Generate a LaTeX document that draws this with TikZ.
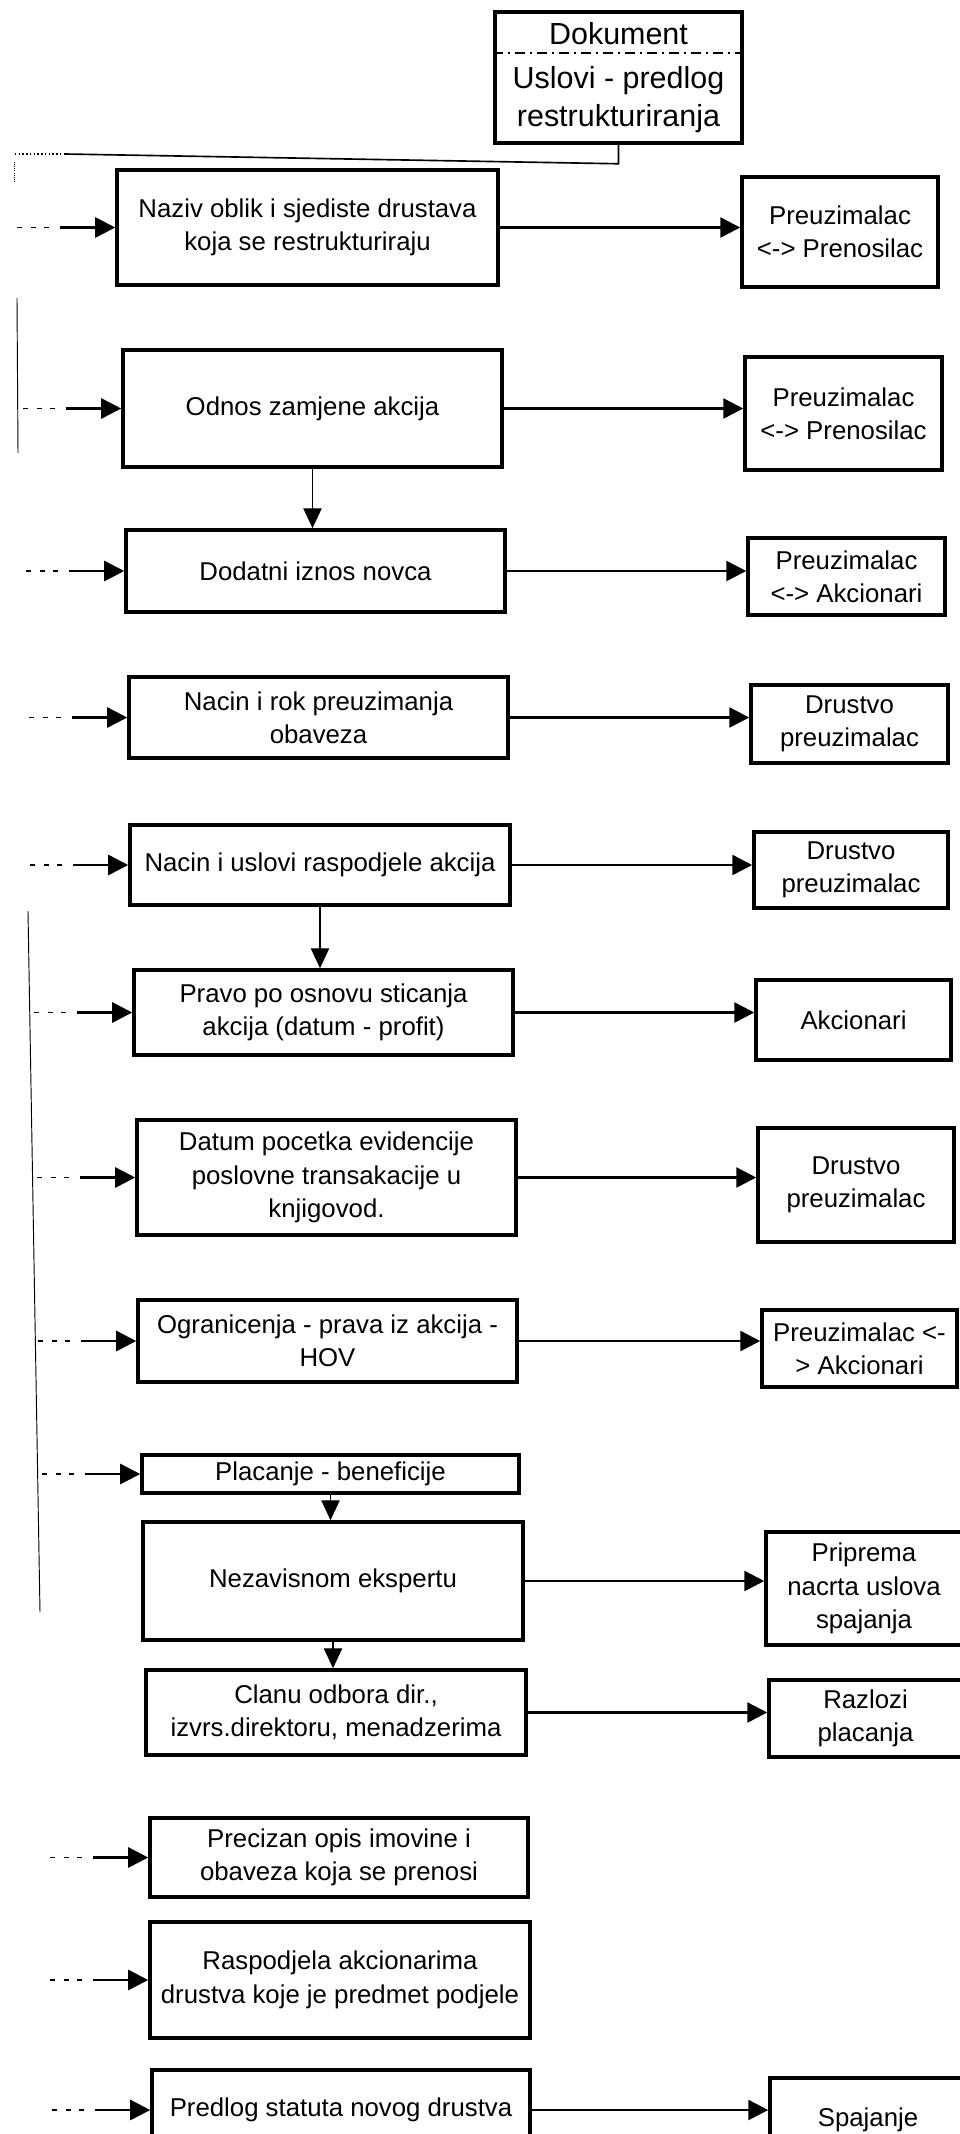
\documentclass[tikz,border=0pt]{standalone}
\usepackage{fontspec}
\setmainfont{Liberation Sans}
\usetikzlibrary{arrows.meta}
\newcommand\cellfont{\fontsize{22}{28.5}\selectfont}
\newcommand\docfont{\fontsize{26}{32.5}\selectfont}
\tikzset{
  box/.style n args={2}{draw,line width=3pt,minimum width=#1*0.3mm,minimum height=#2*0.3mm,inner sep=0pt,align=center,font=\cellfont},
  link/.style={line width=2.2pt,-{Triangle[length=6mm,width=6mm]}},
  down/.style={line width=1.2pt,-{Triangle[length=6mm,width=5.5mm]}},
  feed/.style={line width=1.2pt,dash pattern=on 1.5mm off 2.5mm},
}
\begin{document}
\begin{tikzpicture}[x=0.3mm,y=-0.3mm]
  \clip (0,0) rectangle (960,2134);
  \node[box={247}{131},font=\docfont] (dok) at (618.5,77.5) {Dokument\\[5pt]Uslovi - predlog\\restrukturiranja};
  \draw[line width=1.2pt,dash pattern=on 3mm off 1.5mm on 0.6mm off 1.5mm] (dok.west |- 0,53) -- (dok.east |- 0,53);
  \coordinate (bus) at (65,154);
  \draw[line width=1.4pt] (dok.south) -- ++(0,19) -- (bus);
  \draw[line width=1.2pt,dotted] (bus) -- (15,154);
  \draw[line width=0.8pt,densely dotted] (14,162) -- (14,183);
  \draw[line width=0.8pt] (17,298) -- (18,453);
  \draw[line width=0.8pt] (28,911) -- (40,1612);

  \node[box={381}{115}] (naziv) at (307.5,227.5) {Naziv oblik i sjediste drustava\\koja se restrukturiraju};
  \node[box={379}{117}] (odnos) at (312.5,408.5) {Odnos zamjene akcija};
  \node[box={379}{82}] (dodatni) at (315.5,571) {Dodatni iznos novca};
  \node[box={379}{81}] (rok) at (318.5,717.5) {Nacin i rok preuzimanja\\obaveza};
  \node[box={380}{80}] (uslovi) at (320,865) {Nacin i uslovi raspodjele akcija};
  \node[box={379}{85}] (pravo) at (323.5,1012.5) {Pravo po osnovu sticanja\\akcija (datum - profit)};
  \node[box={379}{115}] (datum) at (326.5,1177.5) {Datum pocetka evidencije\\poslovne transakacije u\\knjigovod.};
  \node[box={379}{82}] (ogran) at (327.5,1341) {Ogranicenja - prava iz akcija -\\HOV};
  \node[box={377}{38}] (placanje) at (330.5,1474) {Placanje - beneficije};
  \node[box={380}{118}] (ekspert) at (333,1581) {Nezavisnom ekspertu};
  \node[box={380}{85}] (clanu) at (336,1712.5) {Clanu odbora dir.,\\izvrs.direktoru, menadzerima};
  \node[box={378}{79}] (opis) at (339,1857.5) {Precizan opis imovine i\\obaveza koja se prenosi};
  \node[box={380}{116}] (raspodjela) at (340,1980) {Raspodjela akcionarima\\drustva koje je predmet podjele};
  \node[box={378}{80}] (statut) at (341,2110) {Predlog statuta novog drustva};

  \node[box={196}{110}] (r1) at (840,232) {Preuzimalac\\<-> Prenosilac};
  \node[box={197}{113}] (r2) at (843.5,413.5) {Preuzimalac\\<-> Prenosilac};
  \node[box={197}{77}] (r3) at (846.5,576.5) {Preuzimalac\\<-> Akcionari};
  \node[box={197}{78}] (r4) at (849.5,724) {Drustvo\\preuzimalac};
  \node[box={194}{76}] (r5) at (851,870) {Drustvo\\preuzimalac};
  \node[box={195}{80}] (r6) at (853.5,1020) {Akcionari};
  \node[box={196}{114}] (r7) at (856,1185) {Drustvo\\preuzimalac};
  \node[box={195}{77}] (r8) at (859.5,1348.5) {Preuzimalac <-\\> Akcionari};
  \node[box={196}{113}] (r9) at (864,1588.5) {Priprema\\nacrta uslova\\spajanja};
  \node[box={193}{77}] (r10) at (865.5,1718.5) {Razlozi\\placanja};
  \node[box={196}{84}] (r11) at (868,2120) {Spajanje};

  \foreach \b in {naziv,odnos,dodatni,rok,uslovi,pravo,datum,ogran,placanje,opis,raspodjela,statut} {
    \draw[feed] (\b.west) ++(-98,0) -- ++(40,0);
    \draw[link] (\b.west) ++(-55,0) -- (\b.west);
  }
  \foreach \a/\b in {naziv/r1,odnos/r2,dodatni/r3,rok/r4,uslovi/r5,pravo/r6,datum/r7,ogran/r8,ekspert/r9,clanu/r10,statut/r11}
    \draw[link] (\a.east) -- (\a.east -| \b.west);
  \foreach \a/\b in {odnos/dodatni,uslovi/pravo,placanje/ekspert,ekspert/clanu}
    \draw[down] (\a.south) -- (\a.south |- \b.north);
\end{tikzpicture}
\end{document}
